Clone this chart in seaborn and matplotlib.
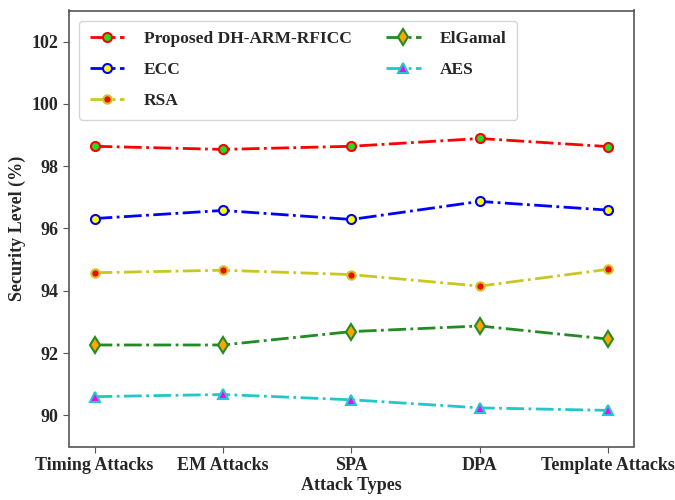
import matplotlib
matplotlib.use("Agg")
import matplotlib.pyplot as plt
import seaborn as sns
import pandas as pd

attack_types = ["Timing Attacks", "EM Attacks", "SPA", "DPA", "Template Attacks"]
proposed = [98.64, 98.54, 98.64, 98.89, 98.63]
ecc = [96.32, 96.58, 96.29, 96.87, 96.59]
rsa = [94.58, 94.66, 94.52, 94.15, 94.69]
elgamal = [92.26, 92.26, 92.69, 92.87, 92.45]
aes = [90.60, 90.67, 90.50, 90.24, 90.16]

series_names = ["Proposed DH-ARM-RFICC", "ECC", "RSA", "ElGamal", "AES"]
series_values = [proposed, ecc, rsa, elgamal, aes]

styles = {
    "Proposed DH-ARM-RFICC": dict(color="red", marker="o", mfc="#22dd22", mec="red", ms=6.5),
    "ECC": dict(color="blue", marker="o", mfc="yellow", mec="blue", ms=6.5),
    "RSA": dict(color="#c8c820", marker="o", mfc="red", mec="#c8c820", ms=6),
    "ElGamal": dict(color="#228B22", marker="d", mfc="orange", mec="#228B22", ms=8),
    "AES": dict(color="#20c8c8", marker="^", mfc="magenta", mec="#20c8c8", ms=6.5),
}

sns.set_style("ticks")
plt.rcParams["font.family"] = ["Liberation Serif", "DejaVu Serif"]
plt.rcParams["font.weight"] = "bold"

fig = plt.figure(figsize=(6.75, 5.0), dpi=100)
ax = fig.add_axes([0.102, 0.107, 0.837, 0.872])

for name, vals in zip(series_names, series_values):
    df = pd.DataFrame({"Attack": attack_types, "Value": vals})
    st = styles[name]
    sns.lineplot(data=df, x="Attack", y="Value", ax=ax, label=name,
                 color=st["color"], linestyle="-.", linewidth=2,
                 marker=st["marker"], markerfacecolor=st["mfc"],
                 markeredgecolor=st["mec"], markersize=st["ms"],
                 markeredgewidth=1.5, sort=False)

ax.set_ylim(89, 103)
ax.set_yticks([90, 92, 94, 96, 98, 100, 102])
ax.set_xlabel("Attack Types", fontsize=13, fontweight="bold", labelpad=2)
ax.set_ylabel("Security Level (%)", fontsize=13, fontweight="bold")
ax.tick_params(axis="both", labelsize=13, length=4, color="#555555")
for lbl in ax.get_xticklabels() + ax.get_yticklabels():
    lbl.set_fontweight("bold")
for sp in ax.spines.values():
    sp.set_color("#555555")
    sp.set_linewidth(1.2)

ax.legend(loc="upper left", ncol=2, prop={"size": 12.5, "weight": "bold"},
          frameon=True, fancybox=True, columnspacing=2.0, handlelength=2.0,
          handletextpad=1.1, labelspacing=0.85, borderaxespad=0.6,
          borderpad=0.6)

fig.savefig("out.png", dpi=100)
